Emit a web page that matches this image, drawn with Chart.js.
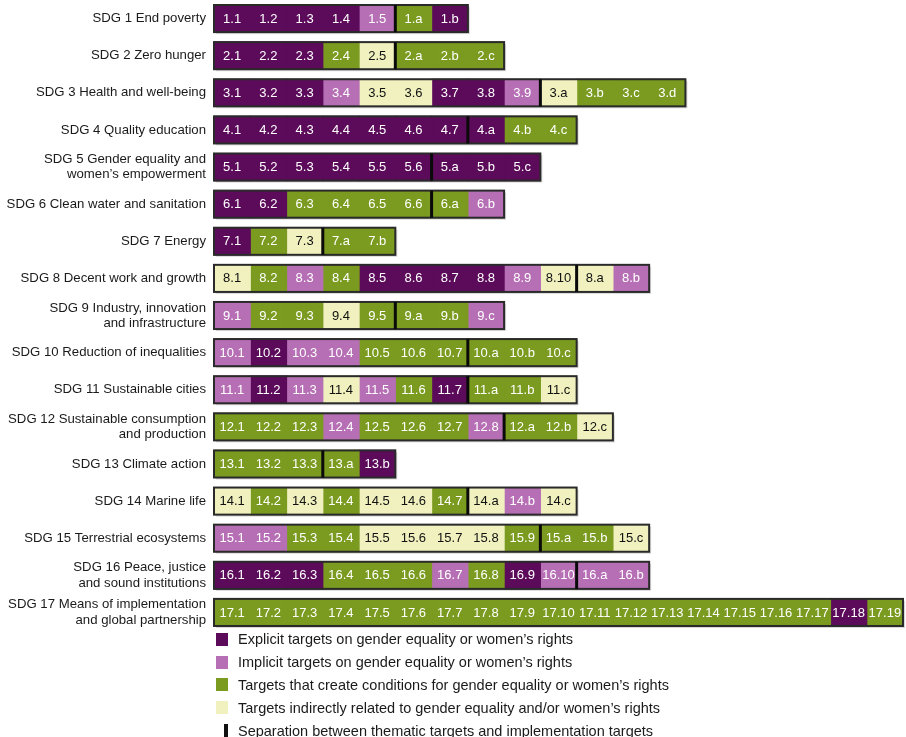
<!DOCTYPE html>
<html>
<head>
<meta charset="utf-8">
<script src="https://cdn.jsdelivr.net/npm/chart.js@4/dist/chart.umd.min.js"></script>
<style>
  body { margin: 0; background: #fff; font-family: "Liberation Sans", Arial, sans-serif; }
  #wrap { position: relative; width: 906px; height: 737px; }
  #legend { position: absolute; left: 216px; top: 628px; font-size: 14.5px; color: #1a1a1a; }
  .item { height: 22.8px; display: flex; align-items: center; }
  .sw { width: 12px; height: 13px; margin-right: 10px; }
  .sep { width: 4px; height: 14px; background: #111; margin: 0 10px 0 8px; }
</style>
</head>
<body>
<div id="wrap">
  <canvas id="sdg-chart"></canvas>
  <div id="legend"></div>
</div>
<script>
// SDG rows
var sdgLabels = [
  "SDG 1 End poverty",
  "SDG 2 Zero hunger",
  "SDG 3 Health and well-being",
  "SDG 4 Quality education",
  ["SDG 5 Gender equality and", "women\u2019s empowerment"],
  "SDG 6 Clean water and sanitation",
  "SDG 7 Energy",
  "SDG 8 Decent work and growth",
  ["SDG 9 Industry, innovation", "and infrastructure"],
  "SDG 10 Reduction of inequalities",
  "SDG 11 Sustainable cities",
  ["SDG 12 Sustainable consumption", "and production"],
  "SDG 13 Climate action",
  "SDG 14 Marine life",
  "SDG 15 Terrestrial ecosystems",
  ["SDG 16 Peace, justice", "and sound institutions"],
  ["SDG 17 Means of implementation", "and global partnership"]
];

// target codes per SDG
var targetCodes = [
  "1.1 1.2 1.3 1.4 1.5 1.a 1.b",
  "2.1 2.2 2.3 2.4 2.5 2.a 2.b 2.c",
  "3.1 3.2 3.3 3.4 3.5 3.6 3.7 3.8 3.9 3.a 3.b 3.c 3.d",
  "4.1 4.2 4.3 4.4 4.5 4.6 4.7 4.a 4.b 4.c",
  "5.1 5.2 5.3 5.4 5.5 5.6 5.a 5.b 5.c",
  "6.1 6.2 6.3 6.4 6.5 6.6 6.a 6.b",
  "7.1 7.2 7.3 7.a 7.b",
  "8.1 8.2 8.3 8.4 8.5 8.6 8.7 8.8 8.9 8.10 8.a 8.b",
  "9.1 9.2 9.3 9.4 9.5 9.a 9.b 9.c",
  "10.1 10.2 10.3 10.4 10.5 10.6 10.7 10.a 10.b 10.c",
  "11.1 11.2 11.3 11.4 11.5 11.6 11.7 11.a 11.b 11.c",
  "12.1 12.2 12.3 12.4 12.5 12.6 12.7 12.8 12.a 12.b 12.c",
  "13.1 13.2 13.3 13.a 13.b",
  "14.1 14.2 14.3 14.4 14.5 14.6 14.7 14.a 14.b 14.c",
  "15.1 15.2 15.3 15.4 15.5 15.6 15.7 15.8 15.9 15.a 15.b 15.c",
  "16.1 16.2 16.3 16.4 16.5 16.6 16.7 16.8 16.9 16.10 16.a 16.b",
  "17.1 17.2 17.3 17.4 17.5 17.6 17.7 17.8 17.9 17.10 17.11 17.12 17.13 17.14 17.15 17.16 17.17 17.18 17.19"
].map(function(s) { return s.split(" "); });

// E = explicit, I = implicit, C = creates conditions, N = indirectly related
var targetTypes = [
  "EEEEICE",
  "EEECNCCC",
  "EEEINNEEINCCC",
  "EEEEEEEECC",
  "EEEEEEEEE",
  "EECCCCCI",
  "ECNCC",
  "NCICEEEEINNI",
  "ICCNCCCI",
  "IEIICCCCCC",
  "IEINICECCN",
  "CCCICCCICCN",
  "CCCCE",
  "NCNCNNCNIN",
  "IICCNNNNCCCN",
  "EEECCCICEIII",
  "CCCCCCCCCCCCCCCCCEC"
];

// number of thematic targets before the implementation targets
var thematicCount = [5, 5, 9, 7, 6, 6, 3, 10, 5, 7, 7, 8, 3, 7, 9, 10, 0];

var typeKeys = ["E", "I", "C", "N"];
var typeNames = [
  "Explicit targets on gender equality or women\u2019s rights",
  "Implicit targets on gender equality or women\u2019s rights",
  "Targets that create conditions for gender equality or women\u2019s rights",
  "Targets indirectly related to gender equality and/or women\u2019s rights"
];
var sepName = "Separation between thematic targets and implementation targets";

var typeColors = { E: "#5c0b5b", I: "#b66fb4", C: "#7a9b1f", N: "#f0f1bf" };
var textColors = { E: "#ffffff", I: "#ffffff", C: "#ffffff", N: "#111111" };

var maxTargets = 19;
var datasets = [];
for (var j = 0; j < maxTargets; j++) {
  datasets.push({
    data: targetCodes.map(function(c) { return j < c.length ? 1 : null; }),
    backgroundColor: targetTypes.map(function(t) { return typeColors[t[j]] || "#fff"; }),
    borderWidth: 0,
    inflateAmount: 0.6,
    categoryPercentage: 1,
    barPercentage: 0.73
  });
}

var cellPlugin = {
  id: 'cells',
  beforeDatasetsDraw: function(chart) {
    var ctx = chart.ctx, x = chart.scales.x;
    var meta = chart.getDatasetMeta(0);
    ctx.save();
    ctx.fillStyle = "#d9d9d9";
    targetCodes.forEach(function(codes, i) {
      var el = meta.data[i];
      var x0 = x.getPixelForValue(0), x1 = x.getPixelForValue(codes.length);
      ctx.fillRect(x0 + 2, el.y - el.height / 2 + 2, x1 - x0, el.height);
    });
    ctx.restore();
  },
  afterDatasetsDraw: function(chart) {
    var ctx = chart.ctx, x = chart.scales.x;
    ctx.save();
    ctx.font = "13px 'Liberation Sans', Arial, sans-serif";
    ctx.textAlign = "center";
    ctx.textBaseline = "middle";
    targetCodes.forEach(function(codes, i) {
      codes.forEach(function(code, j) {
        var el = chart.getDatasetMeta(j).data[i];
        ctx.fillStyle = textColors[targetTypes[i][j]];
        ctx.fillText(code, (el.x + el.base) / 2, el.y + 0.5);
      });
      var el0 = chart.getDatasetMeta(0).data[i];
      var top = el0.y - el0.height / 2, h = el0.height;
      var x0 = x.getPixelForValue(0), x1 = x.getPixelForValue(codes.length);
      ctx.strokeStyle = "#2a2a2a";
      ctx.lineWidth = 2;
      ctx.strokeRect(x0, top, x1 - x0, h);
      if (thematicCount[i] > 0) {
        var xs = x.getPixelForValue(thematicCount[i]);
        ctx.strokeStyle = "#0a0a0a";
        ctx.lineWidth = 3;
        ctx.beginPath();
        ctx.moveTo(xs, top);
        ctx.lineTo(xs, top + h);
        ctx.stroke();
      }
    });
    ctx.restore();
  }
};

new Chart(document.getElementById("sdg-chart"), {
  type: 'bar',
  data: { labels: sdgLabels, datasets: datasets },
  options: {
    indexAxis: 'y',
    responsive: true,
    maintainAspectRatio: false,
    animation: false,
    layout: { padding: { top: 0, right: 3, bottom: 106, left: 0 } },
    plugins: { legend: { display: false }, tooltip: { enabled: false } },
    scales: {
      x: {
        stacked: true, min: 0, max: maxTargets, display: false
      },
      y: {
        stacked: true,
        grid: { display: false, drawTicks: false },
        border: { display: false },
        ticks: {
          padding: 8,
          color: "#1a1a1a",
          font: { size: 13.2, family: "'Liberation Sans', Arial, sans-serif", lineHeight: 1.15 }
        },
        afterFit: function(scale) {
          scale.width = 214;
          scale.paddingTop = 0;
          scale.paddingBottom = 0;
        }
      }
    }
  },
  plugins: [cellPlugin]
});

// legend
var legend = document.getElementById("legend");
typeKeys.forEach(function(k, i) {
  var d = document.createElement("div");
  d.className = "item";
  d.innerHTML = '<span class="sw" style="background:' + typeColors[k] + '"></span><span>' + typeNames[i] + '</span>';
  legend.appendChild(d);
});
var s = document.createElement("div");
s.className = "item";
s.innerHTML = '<span class="sep"></span><span>' + sepName + '</span>';
legend.appendChild(s);
</script>
</body>
</html>
